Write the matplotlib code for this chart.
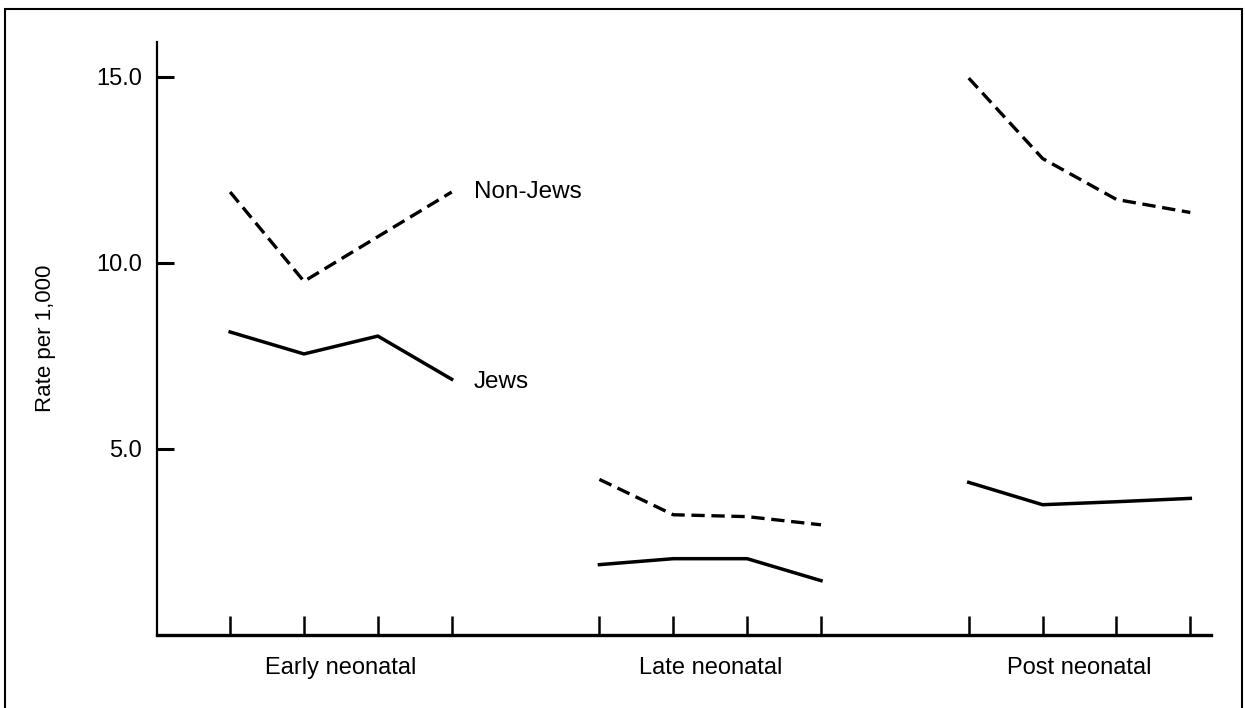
import numpy as np
import matplotlib.pyplot as plt
from matplotlib.patches import Rectangle

plt.rcParams['font.family'] = ['Liberation Sans', 'DejaVu Sans']

# Datos (tasa por 1,000)
periodos = ['Early neonatal', 'Late neonatal', 'Post neonatal']
pos_periodo = [[0, 1, 2, 3], [5, 6, 7, 8], [10, 11, 12, 13]]

no_judios = [[11.9, 9.5, 10.7, 11.9],
             [4.18, 3.23, 3.18, 2.96],
             [14.96, 12.8, 11.7, 11.35]]
judios = [[8.14, 7.55, 8.03, 6.87],
          [1.89, 2.05, 2.05, 1.46],
          [4.1, 3.5, 3.58, 3.67]]

y_ticks = [5.0, 10.0, 15.0]

fig = plt.figure(figsize=(12.45, 7.08), dpi=100, facecolor='white')
ax = fig.add_axes([157 / 1245, 1 - 635 / 708, (1211 - 157) / 1245, (635 - 42) / 708])

for xs, ys in zip(pos_periodo, no_judios):
    ax.plot(xs, ys, color='black', lw=2.4, linestyle=(0, (4, 2)), solid_capstyle='butt')
for xs, ys in zip(pos_periodo, judios):
    ax.plot(xs, ys, color='black', lw=2.5)

ax.set_xlim(-0.99, 13.28)
ax.set_ylim(0, 15.93)

for s in ['top', 'right']:
    ax.spines[s].set_visible(False)
ax.spines['left'].set_linewidth(1.6)
ax.spines['bottom'].set_linewidth(2.4)

ax.set_yticks(y_ticks)
ax.set_yticklabels(['%.1f' % v for v in y_ticks])
ax.tick_params(axis='y', direction='in', length=12, width=2.2, pad=11, labelsize=17)
ax.set_xticks([x for xs in pos_periodo for x in xs])
ax.set_xticklabels([])
ax.tick_params(axis='x', direction='in', length=14, width=1.8)

for nombre, xs in zip(periodos, pos_periodo):
    ax.text(np.mean(xs), -0.055, nombre, transform=ax.get_xaxis_transform(),
            ha='center', va='center', fontsize=17)

ax.text(3.3, 11.9, 'Non-Jews', ha='left', va='center', fontsize=17.5)
ax.text(3.3, 6.8, 'Jews', ha='left', va='center', fontsize=17.5)

fig.text(46 / 1245, 1 - 338 / 708, 'Rate per 1,000', rotation=90,
         ha='center', va='center', fontsize=16)

# Marco alrededor de la figura
fig.patches.append(Rectangle((5 / 1245, -0.05), (1242 - 5) / 1245, 1.05 - 9 / 708,
                             transform=fig.transFigure, fill=False,
                             edgecolor='black', lw=1.5))

fig.savefig('out.png', dpi=100)
